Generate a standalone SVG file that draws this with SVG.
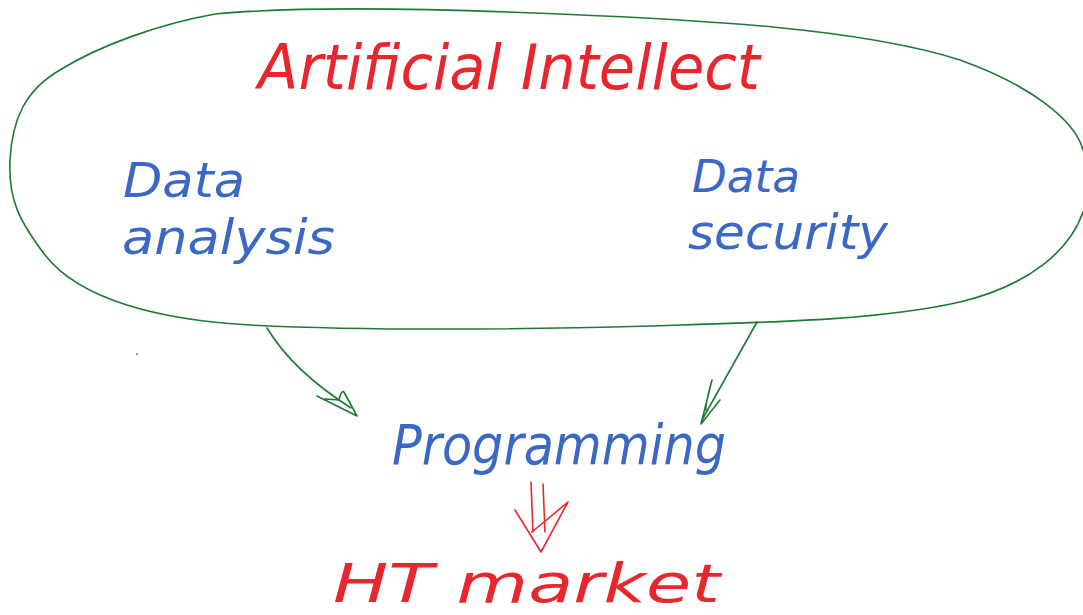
<svg xmlns="http://www.w3.org/2000/svg" width="1083" height="615" viewBox="0 0 1083 615">
<style>
.g{fill:none;stroke:#1d7a36;stroke-width:1.6;stroke-linecap:round;stroke-linejoin:round}
.r{fill:none;stroke:#e8262e;stroke-width:1.6;stroke-linecap:round;stroke-linejoin:round}
.tb{font-family:"DejaVu Sans","Liberation Sans",Arial,sans-serif;font-weight:200;fill:#3a68c4;font-style:italic}
.tr{font-family:"DejaVu Sans","Liberation Sans",Arial,sans-serif;font-weight:200;fill:#e8262e;font-style:italic}
</style>
<rect width="1083" height="615" fill="#ffffff"/>
<g id="ai-region">
<path class="g" d="M215,14 C300,6 420,8 560,14 C700,20 860,28 960,60 C1030,85 1075,120 1083,150 M1083,212 C1070,250 1030,285 960,302 C880,320 780,322 650,326 C500,330 350,330 250,325 C160,320 80,300 45,255 C20,222 8,200 10,160 C12,120 25,90 60,70 C100,45 160,24 215,14"/>
<text class="tr" x="258" y="89" font-size="62" textLength="502" lengthAdjust="spacingAndGlyphs">Artificial Intellect</text>
</g>
<g id="data-analysis">
<text class="tb" x="123" y="197" font-size="48" textLength="122" lengthAdjust="spacingAndGlyphs">Data</text>
<text class="tb" x="122" y="254" font-size="48" textLength="213" lengthAdjust="spacingAndGlyphs">analysis</text>
</g>
<g id="data-security">
<text class="tb" x="692" y="192" font-size="44" textLength="108" lengthAdjust="spacingAndGlyphs">Data</text>
<text class="tb" x="688" y="249" font-size="48" textLength="200" lengthAdjust="spacingAndGlyphs">security</text>
</g>
<g id="programming">
<text class="tb" x="392" y="464" font-size="56" textLength="334" lengthAdjust="spacingAndGlyphs">Programming</text>
</g>
<g id="it-market">
<text class="tr" x="333" y="602" font-size="54" textLength="387" lengthAdjust="spacingAndGlyphs">HT market</text>
</g>
<g id="connectors">
<path class="g" d="M267,328 C285,358 315,385 351,408"/>
<path class="g" d="M317,396 L357,416 L344,392 C342,390 340,395 339,400 L325,399"/>
<path class="g" d="M757,322 L702,420"/>
<path class="g" d="M712,380 L701,424 L720,400 M712,380 C708,395 705,405 706,410"/>
<path class="r" d="M531,482 L533,532 M543,484 L545,532 M515,510 L541,552 L568,502 L532,532"/>
</g>
<circle cx="137" cy="354" r="1" fill="#5577aa"/>
</svg>
